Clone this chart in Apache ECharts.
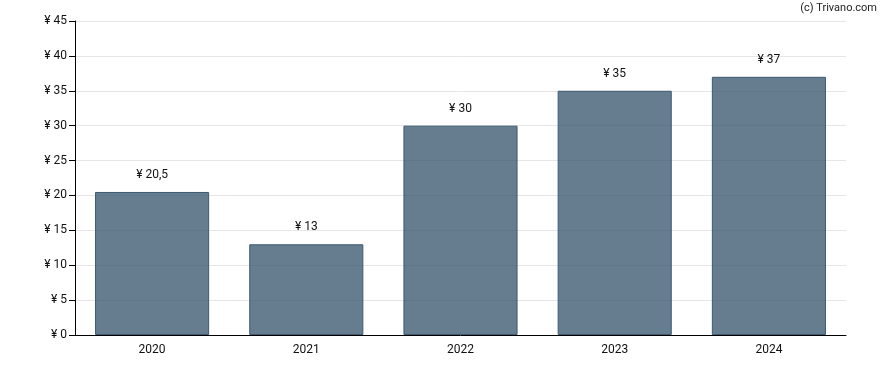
<!DOCTYPE html>
<html><head><meta charset="utf-8">
<script src="https://cdn.jsdelivr.net/npm/echarts@6/dist/echarts.min.js"></script>
<style>html,body{margin:0;padding:0;background:#fff}#c{width:888px;height:370px}</style>
</head><body><div id="c"></div>
<script>
const categories = ['2020','2021','2022','2023','2024'];
const values = [20.5, 13, 30, 35, 37];
const yMin = 0, yMax = 45, yInterval = 5;

function fmt(v){ return '¥ ' + String(v).replace('.', ','); }

const chart = echarts.init(document.getElementById('c'), null, {renderer:'canvas'});
chart.setOption({
  animation: false,
  backgroundColor: '#fff',
  textStyle: {fontFamily: 'Roboto, sans-serif'},
  graphic: [{type:'text', right: 11, top: 3, style:{text:'(c) Trivano.com', font:'11px Roboto, sans-serif', fill:'#222'}}],
  grid: {left: 75, right: 42, top: 21, bottom: 35},
  xAxis: {
    type: 'category', data: categories,
    axisLine: {lineStyle: {color: '#000'}},
    axisTick: {alignWithLabel: true, length: 5, lineStyle:{color:'#000'}},
    axisLabel: {color: '#111', fontSize: 12, margin: 9}
  },
  yAxis: {
    type: 'value', min: yMin, max: yMax, interval: yInterval,
    axisLine: {show: true, lineStyle: {color: '#000'}},
    axisTick: {show: true, length: 6, lineStyle:{color:'#000'}},
    axisLabel: {color: '#111', fontSize: 12, margin: 8, formatter: v => fmt(v)},
    splitLine: {lineStyle: {color: '#e6e6e6'}}
  },
  series: [{
    type: 'bar', data: values, barCategoryGap: '26%',
    itemStyle: {color: 'rgba(47,79,104,0.74)', borderColor: '#3d5a70', borderWidth: 1},
    label: {show: true, position: 'top', distance: 11, color: '#111', fontSize: 12, formatter: p => fmt(p.value)}
  }]
});
</script></body></html>
